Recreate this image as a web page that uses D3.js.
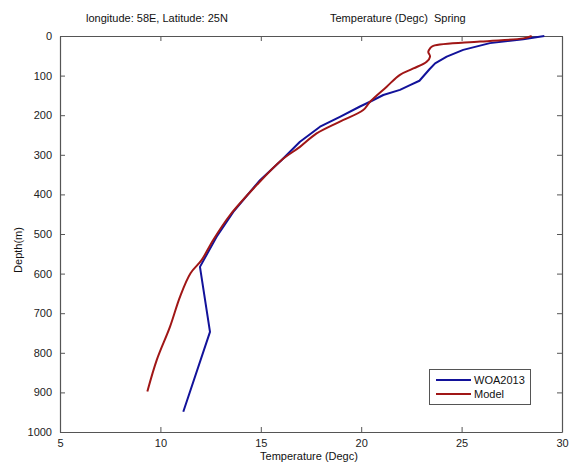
<!DOCTYPE html>
<html><head><meta charset="utf-8">
<script src="https://cdn.jsdelivr.net/npm/d3@7"></script>
<style>
html,body{margin:0;padding:0;background:#fff;}
svg{display:block;font-family:"Liberation Sans",Arial,sans-serif;}
</style></head>
<body><svg id="c" width="572" height="463"></svg>
<script>
// Data
const woaDepth = [0, 8, 18, 35, 52, 69, 84, 113, 124, 136, 149, 166, 178, 204, 229, 267, 313, 364, 444, 507, 583, 747, 949];
const woaTemp  = [29.12, 28.07, 26.41, 25.08, 24.26, 23.68, 23.4, 22.9, 22.43, 21.93, 21.1, 20.44, 19.94, 18.94, 17.95, 16.95, 16.04, 14.96, 13.63, 12.8, 11.97, 12.47, 11.14];
const modelDepth = [0, 6, 14, 25, 31, 40, 52, 65, 82, 98, 128, 166, 187, 216, 246, 280, 313, 376, 452, 515, 566, 599, 658, 734, 818, 898];
const modelTemp  = [28.49, 28.07, 25.92, 23.59, 23.43, 23.34, 23.43, 23.26, 22.6, 21.93, 21.27, 20.44, 20.1, 18.94, 17.78, 16.95, 16.04, 14.8, 13.47, 12.63, 12.05, 11.5, 10.98, 10.48, 9.82, 9.35];
const xTicks = [5, 10, 15, 20, 25, 30];
const yTicks = [0, 100, 200, 300, 400, 500, 600, 700, 800, 900, 1000];
const seriesNames = ["WOA2013", "Model"];
const seriesColors = ["#12129a", "#a01616"];

const svg = d3.select("#c");
const L = 60, R = 562, T = 36, B = 432;
const x = d3.scaleLinear().domain([5, 30]).range([L, R]);
const y = d3.scaleLinear().domain([0, 1000]).range([T, B]);
const axisColor = "#555";
const tl = 5;
const fmt = d3.format("d");

// axes (MATLAB-like box with inward ticks)
const gB = svg.append("g").attr("transform", `translate(0,${B})`)
  .call(d3.axisBottom(x).tickValues(xTicks).tickFormat(fmt).tickSize(-tl).tickPadding(tl + 2).tickSizeOuter(0));
const gT = svg.append("g").attr("transform", `translate(0,${T})`)
  .call(d3.axisTop(x).tickValues(xTicks).tickSize(-tl).tickFormat("").tickSizeOuter(0));
const gL = svg.append("g").attr("transform", `translate(${L},0)`)
  .call(d3.axisLeft(y).tickValues(yTicks).tickFormat(fmt).tickSize(-tl).tickPadding(tl + 3).tickSizeOuter(0));
const gR = svg.append("g").attr("transform", `translate(${R},0)`)
  .call(d3.axisRight(y).tickValues(yTicks).tickSize(-tl).tickFormat("").tickSizeOuter(0));
[gB, gT, gL, gR].forEach(g => {
  g.selectAll(".domain").attr("stroke", axisColor).attr("stroke-width", 1.2);
  g.selectAll(".tick line").attr("stroke", axisColor);
  g.selectAll(".tick text").attr("fill", "#222").style("font-size", "11px").style("font-family", '"Liberation Sans",Arial,sans-serif');
});

// lines
const lineM = d3.line().x(d => x(d[1])).y(d => y(d[0])).curve(d3.curveCatmullRom.alpha(0.5));
const lineW = d3.line().x(d => x(d[1])).y(d => y(d[0]));
const woa = woaDepth.map((d, i) => [d, woaTemp[i]]);
const mod = modelDepth.map((d, i) => [d, modelTemp[i]]);
svg.append("path").datum(woa).attr("d", lineW).attr("fill", "none")
  .attr("stroke", seriesColors[0]).attr("stroke-width", 2).attr("stroke-linejoin", "round");
svg.append("path").datum(mod).attr("d", lineM).attr("fill", "none")
  .attr("stroke", seriesColors[1]).attr("stroke-width", 2).attr("stroke-linejoin", "round");

// titles
svg.append("text").attr("x", 86).attr("y", 22).style("font-size", "11px").attr("fill", "#111")
  .text("longitude: 58E, Latitude: 25N");
svg.append("text").attr("x", 330).attr("y", 22).style("font-size", "11px").attr("fill", "#111")
  .attr("xml:space", "preserve").style("white-space", "pre")
  .text("Temperature (Degc)  Spring");
svg.append("text").attr("x", 309).attr("y", 460).attr("text-anchor", "middle")
  .style("font-size", "11px").attr("fill", "#111").text("Temperature (Degc)");
svg.append("text").attr("transform", "translate(22,250) rotate(-90)").attr("text-anchor", "middle")
  .style("font-size", "11px").attr("fill", "#111").text("Depth(m)");

// legend
const lg = svg.append("g");
lg.append("rect").attr("x", 429.5).attr("y", 369.5).attr("width", 101).attr("height", 35)
  .attr("fill", "#fff").attr("stroke", "#555").attr("stroke-width", 1);
seriesNames.forEach((n, i) => {
  const yy = 380 + i * 14;
  lg.append("line").attr("x1", 436).attr("x2", 471).attr("y1", yy).attr("y2", yy)
    .attr("stroke", seriesColors[i]).attr("stroke-width", 2);
  lg.append("text").attr("x", 474).attr("y", yy + 4).style("font-size", "11px").attr("fill", "#111").text(n);
});
</script></body></html>
